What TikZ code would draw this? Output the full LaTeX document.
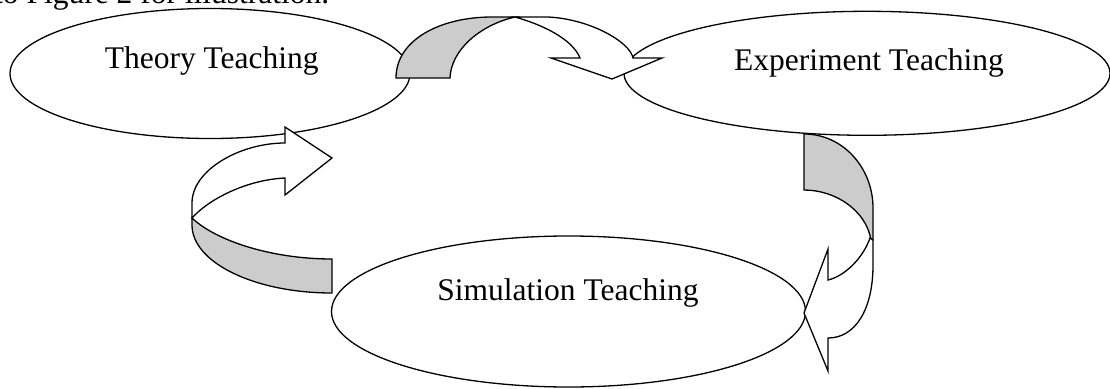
\documentclass[tikz,border=0pt]{standalone}
\usepackage{fontspec}
\setmainfont{Liberation Serif}
\usetikzlibrary{shapes.geometric}
\definecolor{bandgray}{RGB}{204,204,204}
\begin{document}
\begin{tikzpicture}[x=1pt,y=-1pt,
  stage/.style={ellipse, draw, line width=1.3pt, fill=white, inner sep=0pt, outer sep=0pt},
  lbl/.style={font=\fontsize{31.5}{36}\selectfont, inner sep=0pt, anchor=base},
  backband/.style={draw, line width=1.3pt, fill=bandgray, line join=miter},
  frontband/.style={draw, line width=1.3pt, fill=white, line join=miter}]
\useasboundingbox (0,0) rectangle (1110,388);
\clip (0,0) rectangle (1110,388);
% cut-off line of the surrounding text
\node[lbl, anchor=base west] (intro) at (-6,4) {to Figure 2 for illustration.};
% stages
\node[stage, minimum width=400pt, minimum height=130pt] (theory) at (210,73.5) {};
\node[stage, minimum width=486pt, minimum height=124pt] (experiment) at (867,73.3) {};
\node[stage, minimum width=474pt, minimum height=151pt] (simulation) at (568.5,311.5) {};
\node[lbl] (theorylbl) at (211.7,68) {Theory Teaching};
\node[lbl] (explbl) at (869,70.7) {Experiment Teaching};
\node[lbl] (simlbl) at (568,300) {Simulation Teaching};
% arrow: theory -> experiment
\draw[backband] (396,78) .. controls (396,40) and (440,17) .. (492,17) -- (515,17)
  .. controls (480,25) and (451,50) .. (450,78) -- cycle;
\draw[frontband] (515,17) -- (548,17) .. controls (590,19) and (630,42) .. (633,58)
  -- (662,58) -- (612,79) -- (551,58) -- (580,58)
  .. controls (572,38) and (540,24) .. (515,17) -- cycle;
% arrow: experiment -> simulation
\draw[backband] (804,134) .. controls (843,134) and (873,168) .. (873,208) -- (873,240) -- (871,240)
  .. controls (866,210) and (835,190) .. (804,190) -- cycle;
\draw[frontband] (873,240) -- (873,265) .. controls (873,310) and (855,338) .. (828,338)
  -- (828,371) -- (804,313) -- (828,249) -- (828,280)
  .. controls (845,276) and (863,258) .. (870,238) -- cycle;
% arrow: simulation -> theory
\draw[backband] (332,293) .. controls (254.7,293) and (192,262.6) .. (192,225) -- (192,218)
  .. controls (215,240) and (270,259) .. (332,259) -- cycle;
\draw[frontband] (192,218) -- (192,203) .. controls (192,170) and (240,143) .. (285,143)
  -- (285,127) -- (332,158) -- (285,195) -- (285,178)
  .. controls (245,180) and (208,200) .. (192,218) -- cycle;
\end{tikzpicture}
\end{document}
